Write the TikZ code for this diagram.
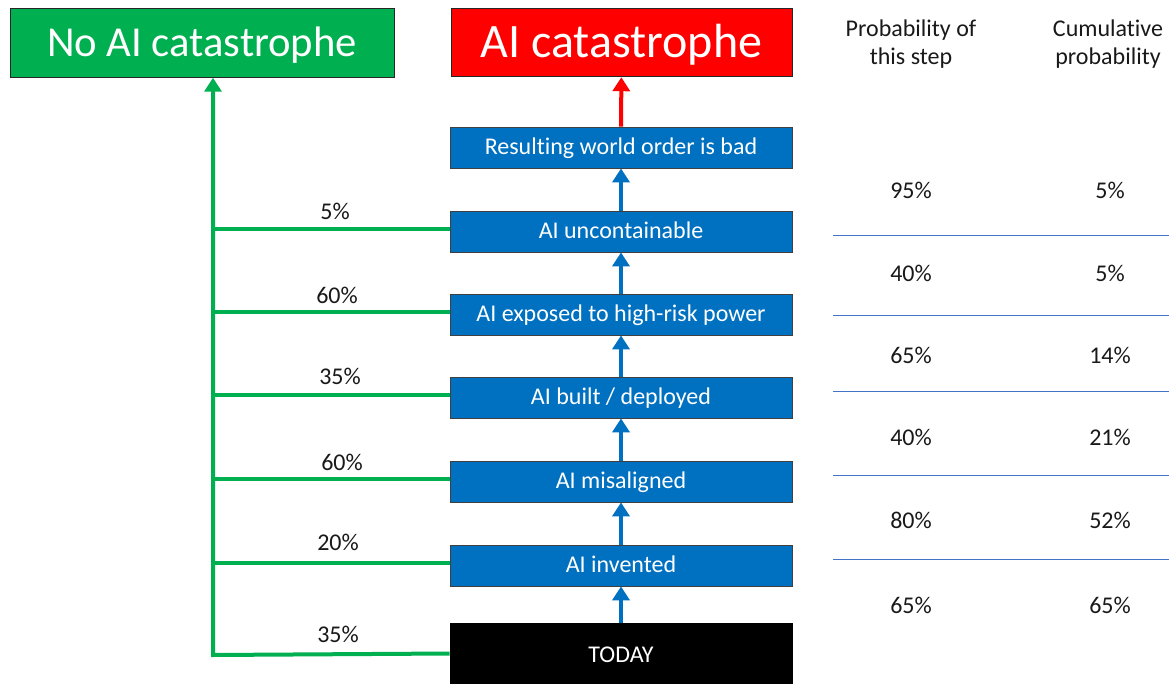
\documentclass[tikz,border=0pt]{standalone}
\usepackage{fontspec}
\setmainfont{Carlito}[Ligatures=NoCommon]
\usetikzlibrary{arrows.meta}
\definecolor{okgreen}{HTML}{00B050}
\definecolor{stepblue}{HTML}{0070C0}
\definecolor{badred}{HTML}{FF0000}
\definecolor{rulecol}{HTML}{4472C4}
\begin{document}
\begin{tikzpicture}[x=0.75pt,y=-0.75pt,
  stepbox/.style={draw=black!75, line width=0.6pt, fill=stepblue, text=white,
    minimum width=256.5pt, minimum height=30.75pt, inner sep=0pt,
    text height=13.5pt, text depth=3.5pt,
    font=\fontsize{18}{21}\selectfont},
  endbox/.style={draw=black!85, line width=0.6pt, text=white, inner sep=0pt,
    minimum height=51.5pt},
  pct/.style={font=\fontsize{18}{21}\selectfont, text=black!90, inner sep=0pt},
  uparrow/.style={draw=stepblue, line width=3pt,
    -{Triangle[width=12.75pt,length=10.5pt]}},
  redarrow/.style={draw=badred, line width=3pt,
    -{Triangle[width=12.75pt,length=10.5pt]}},
  exitline/.style={draw=okgreen, line width=3pt},
  exitarrow/.style={draw=okgreen, line width=3pt, line join=miter,
    -{Triangle[width=12.75pt,length=10.5pt]}},
  sep/.style={draw=rulecol, line width=0.75pt}
]
\useasboundingbox (0,0) rectangle (1169,684);

% outcome boxes
\node[endbox, fill=okgreen, minimum width=288pt, text height=28pt, text depth=8pt,
  font=\fontsize{32}{38}\selectfont] (noai) at (202,43) {No AI catastrophe};
\node[endbox, fill=badred, minimum width=255.75pt, text height=30pt, text depth=8.2pt,
  font=\fontsize{36}{42}\selectfont] (aicat) at (621.5,42.5) {AI catastrophe};

% chain of steps
\node[stepbox] (bad) at (621,147.5) {Resulting world order is bad};
\node[stepbox] (uncont) at (621,231.5) {AI uncontainable};
\node[stepbox] (exposed) at (621,314.5) {AI exposed to high-risk power};
\node[stepbox] (built) at (621,397.5) {AI built / deployed};
\node[stepbox] (misal) at (621,481.5) {AI misaligned};
\node[stepbox] (invented) at (621,565.5) {AI invented};
\node[stepbox, fill=black, draw=black, minimum height=45.75pt,
  text height=15pt, text depth=2.2pt] (today) at (621,653.5) {TODAY};

% upward progression
\draw[uparrow] (today) -- (invented);
\draw[uparrow] (invented) -- (misal);
\draw[uparrow] (misal) -- (built);
\draw[uparrow] (built) -- (exposed);
\draw[uparrow] (exposed) -- (uncont);
\draw[uparrow] (uncont) -- (bad);
\draw[redarrow] (bad) -- (aicat);

% exits to "No AI catastrophe"
\coordinate (trunk) at (213,655);
\draw[exitarrow] (today.west) -- (trunk) -- (trunk |- noai.south);
\foreach \b in {invented,misal,built,exposed,uncont}{
  \draw[exitline] ([yshift=2.25pt]\b.west) -- ([yshift=2.25pt]\b.west -| trunk);
}

% branch probabilities
\node[pct] (p1) at (335,211) {5\%};
\node[pct] (p2) at (337,295) {60\%};
\node[pct] (p3) at (340,376) {35\%};
\node[pct] (p4) at (342,462) {60\%};
\node[pct] (p5) at (338,542) {20\%};
\node[pct] (p6) at (338,634) {35\%};

% probability table
\node[pct, align=center] (h1) at (911,44) {Probability of\\this step};
\node[pct, align=center] (h2) at (1108,44) {Cumulative\\probability};

\node[pct] (a1) at (911,190) {95\%};
\node[pct] (a2) at (911,273) {40\%};
\node[pct] (a3) at (911,355) {65\%};
\node[pct] (a4) at (911,437) {40\%};
\node[pct] (a5) at (911,520) {80\%};
\node[pct] (a6) at (911,605) {65\%};

\node[pct] (c1) at (1110,190) {5\%};
\node[pct] (c2) at (1110,273) {5\%};
\node[pct] (c3) at (1110,355) {14\%};
\node[pct] (c4) at (1110,437) {21\%};
\node[pct] (c5) at (1110,520) {52\%};
\node[pct] (c6) at (1110,605) {65\%};

\foreach \yy in {235,315,391,475,559}{
  \draw[sep] (833,\yy) -- (1169,\yy);
}
\end{tikzpicture}
\end{document}
